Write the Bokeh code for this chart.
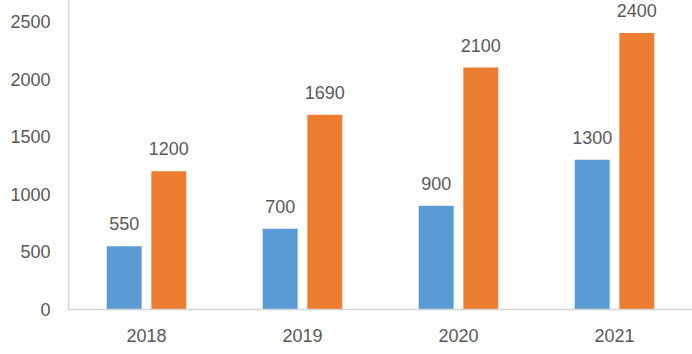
from bokeh.plotting import figure
from bokeh.models import ColumnDataSource, FactorRange, Range1d, FixedTicker, LabelSet
from bokeh.transform import dodge
from bokeh.core.properties import value
from bokeh.embed import file_html
from bokeh.resources import INLINE

years = ["2018", "2019", "2020", "2021"]
series_a = [550, 700, 900, 1300]
series_b = [1200, 1690, 2100, 2400]
y_ticks = [0, 500, 1000, 1500, 2000, 2500]

src = ColumnDataSource(dict(
    years=years, a=series_a, b=series_b,
    a_txt=[str(v) for v in series_a], b_txt=[str(v) for v in series_b],
))

FONT = "Liberation Sans"
TXT = "#595959"

p = figure(width=692, height=354, x_range=FactorRange(*years), y_range=Range1d(0, 2682),
           output_backend="svg", toolbar_location=None,
           min_border_left=68, min_border_right=0, min_border_top=0, min_border_bottom=45)
p.outline_line_color = None
p.xgrid.grid_line_color = None
p.ygrid.grid_line_color = None
p.x_range.range_padding = 0

p.vbar(x=dodge("years", -0.143, range=p.x_range), top="a", width=0.224, source=src,
       fill_color="#5B9BD5", line_color=None)
p.vbar(x=dodge("years", 0.143, range=p.x_range), top="b", width=0.224, source=src,
       fill_color="#ED7D31", line_color=None)

for col, off in (("a", -0.143), ("b", 0.143)):
    p.add_layout(LabelSet(x=dodge("years", off, range=p.x_range), y=col, text=col + "_txt",
                          source=src, text_align="center", text_baseline="bottom",
                          y_offset=16, text_font=value(FONT), text_font_size=value("18px"),
                          text_color=TXT))

for ax in (p.xaxis[0], p.yaxis[0]):
    ax.axis_line_color = "#D4D4D4"
    ax.axis_line_width = 1.5
    ax.major_tick_line_color = None
    ax.minor_tick_line_color = None
    ax.major_label_text_font = FONT
    ax.major_label_text_font_size = "18px"
    ax.major_label_text_color = TXT

p.yaxis[0].ticker = FixedTicker(ticks=y_ticks)
p.yaxis[0].major_label_standoff = 12
p.xaxis[0].major_label_standoff = 13

open("out.html", "w").write(file_html(p, INLINE))
